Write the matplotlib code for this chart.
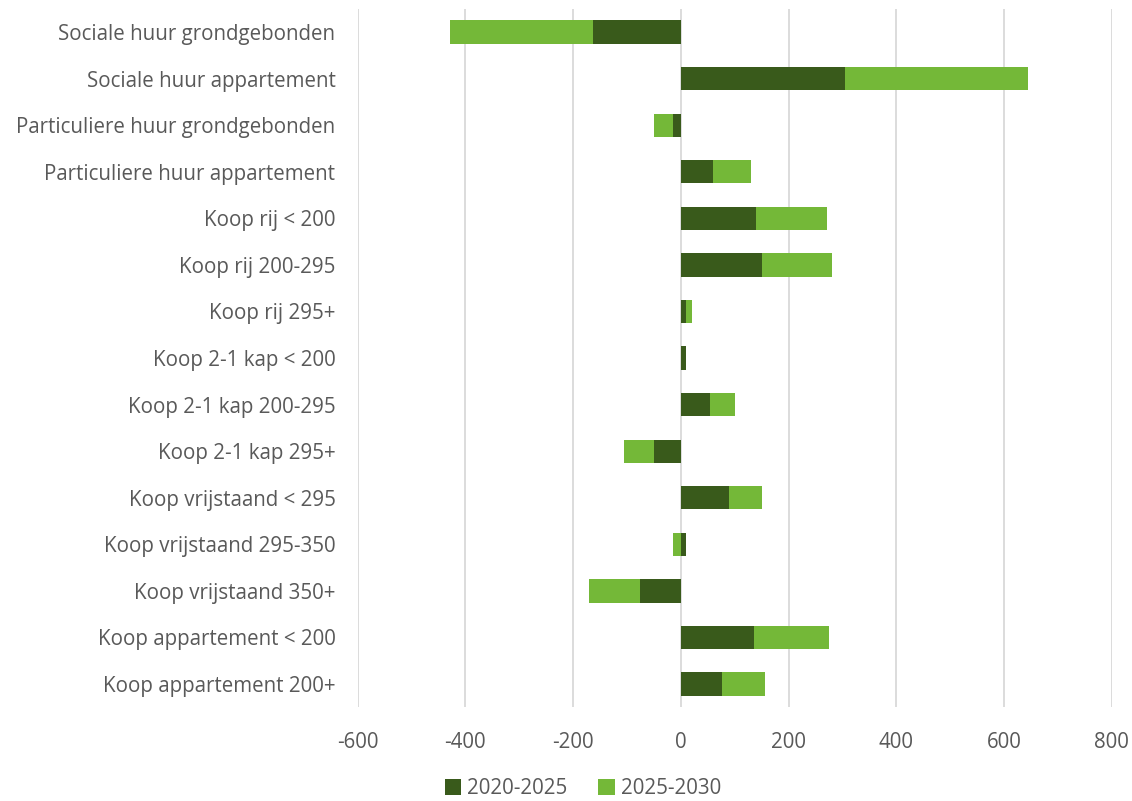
"""
Stacked horizontal bars: woningbehoefte per segment, two periods.
"""

import numpy as np
import matplotlib.pyplot as plt

categories = [
    'Sociale huur grondgebonden',
    'Sociale huur appartement',
    'Particuliere huur grondgebonden',
    'Particuliere huur appartement',
    'Koop rij < 200',
    'Koop rij 200-295',
    'Koop rij 295+',
    'Koop 2-1 kap < 200',
    'Koop 2-1 kap 200-295',
    'Koop 2-1 kap 295+',
    'Koop vrijstaand < 295',
    'Koop vrijstaand 295-350',
    'Koop vrijstaand 350+',
    'Koop appartement < 200',
    'Koop appartement 200+',
]
period_2020_2025 = [-163, 305, -15, 60, 140, 150, 10, 10, 55, -49, 90, 10, -75, 135, 76]
period_2025_2030 = [-266, 340, -35, 70, 131, 131, 10, 0, 46, -56, 60, -15, -95, 140, 80]
series_names = ['2020-2025', '2025-2030']
xticks = [-600, -400, -200, 0, 200, 400, 600, 800]

dark_green = '#395a1b'
light_green = '#74b838'
text_grey = '#595959'

plt.rcParams['font.family'] = ['Open Sans', 'DejaVu Sans']

fig = plt.figure(figsize=(11.32, 8.01), dpi=100)
ax = fig.add_axes([0.316, 0.117, 0.666, 0.872])

y = np.arange(len(categories))
first = np.array(period_2020_2025, dtype=float)
second = np.array(period_2025_2030, dtype=float)

# Excel-style stacking: positives stack on positives, negatives on negatives
pos_base = np.where(first > 0, first, 0)
neg_base = np.where(first < 0, first, 0)
left_second = np.where(second >= 0, pos_base, neg_base)

ax.barh(y, first, height=0.5, color=dark_green, label=series_names[0], zorder=3)
ax.barh(y, second, left=left_second, height=0.5, color=light_green,
        label=series_names[1], zorder=3)

ax.set_yticks(y)
ax.set_yticklabels(categories)
ax.set_ylim(len(categories) - 0.5, -0.5)
ax.set_xlim(-600, 800)
ax.set_xticks(xticks)
ax.set_xticklabels([str(t) for t in xticks])

ax.grid(axis='x', color='#d9d9d9', linewidth=1.3, zorder=0)
for side in ['top', 'right', 'bottom', 'left']:
    ax.spines[side].set_visible(False)
ax.tick_params(axis='both', length=0, labelsize=14.8, colors=text_grey)
ax.tick_params(axis='x', pad=18)
ax.tick_params(axis='y', pad=16)

fig.legend(loc='center', bbox_to_anchor=(0.515, 12 / 801), ncol=2, frameon=False,
           fontsize=14.8, handlelength=0.8, handleheight=0.8, handletextpad=0.3,
           columnspacing=1.5, labelcolor=text_grey)

fig.savefig('out.png', dpi=100)
